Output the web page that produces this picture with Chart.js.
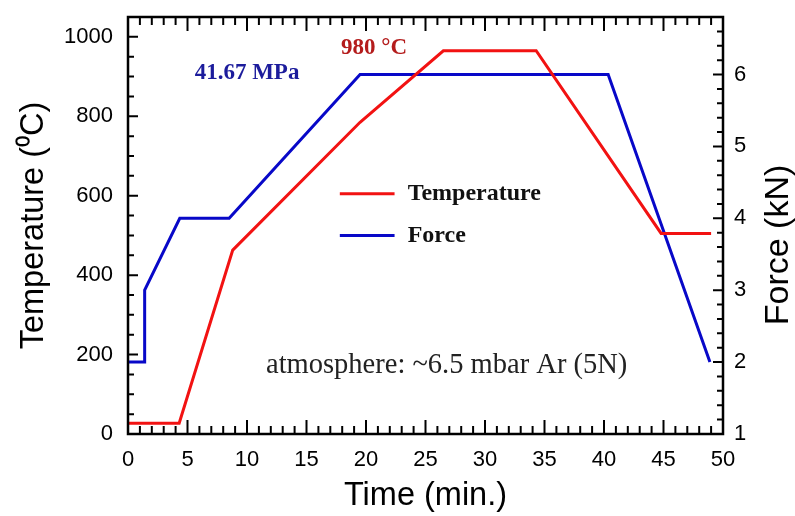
<!DOCTYPE html>
<html>
<head>
<meta charset="utf-8">
<script src="https://cdn.jsdelivr.net/npm/chart.js@4.4.1/dist/chart.umd.min.js"></script>
<style>
  html, body { margin: 0; padding: 0; background: #fff; }
  #wrap { width: 795px; height: 516px; }
</style>
</head>
<body>
<div id="wrap"><canvas id="profileChart"></canvas></div>
<script>
const timeTemp = [0, 4.3, 8.8, 19.5, 26.5, 34.3, 44.8, 49];
const temperature = [27, 27, 463, 785, 965, 965, 505, 505];
const timeForce = [0, 1.4, 1.4, 4.35, 8.5, 19.5, 40.35, 48.9];
const force = [2.0, 2.0, 3.0, 4.0, 4.0, 6.0, 6.0, 2.0];

const timeTicks = [0, 5, 10, 15, 20, 25, 30, 35, 40, 45, 50];
const tempTicks = [0, 200, 400, 600, 800, 1000];
const forceTicks = [1, 2, 3, 4, 5, 6];

const SANS = "'Liberation Sans', Arial, sans-serif";
const SERIF = "'Liberation Serif', 'Times New Roman', serif";
const RED = '#f21212';
const BLUE = '#0808c8';

Chart.defaults.font.family = SANS;
Chart.defaults.color = '#000';

// inward tick marks + box frame, like the Origin plot
const frameTicks = {
    id: 'frameTicks',
    afterDraw(chart) {
        const { ctx, chartArea: a, scales } = chart;
        const x = scales.x, yL = scales.y, yR = scales.y1;
        ctx.save();
        ctx.strokeStyle = '#000';
        ctx.lineWidth = 2;
        ctx.beginPath();
        for (let v = 0; v <= 50; v++) {
            const px = x.getPixelForValue(v);
            const len = v % 5 === 0 ? 14 : 8;
            ctx.moveTo(px, a.bottom); ctx.lineTo(px, a.bottom - len);
            ctx.moveTo(px, a.top); ctx.lineTo(px, a.top + len);
        }
        for (let v = 0; v <= 1050; v += 50) {
            const py = yL.getPixelForValue(v);
            const len = v % 200 === 0 ? 10 : 6;
            ctx.moveTo(a.left, py); ctx.lineTo(a.left + len, py);
        }
        for (let i = 0; i <= 29; i++) {
            const py = yR.getPixelForValue(1 + i * 0.2);
            const len = i % 5 === 0 ? 10 : 6;
            ctx.moveTo(a.right, py); ctx.lineTo(a.right - len, py);
        }
        ctx.stroke();
        ctx.lineWidth = 2.5;
        ctx.strokeRect(a.left, a.top, a.width, a.height);
        ctx.restore();
    }
};

// labels inside the plot, the legend and the right axis title
const notes = {
    id: 'notes',
    afterDraw(chart) {
        const { ctx, chartArea: a, scales } = chart;
        const x = scales.x, y = scales.y;
        ctx.save();
        ctx.textAlign = 'left';
        ctx.textBaseline = 'alphabetic';

        ctx.font = 'bold 23px ' + SERIF;
        ctx.fillStyle = '#1c1c9c';
        ctx.fillText('41.67 MPa', x.getPixelForValue(5.6), y.getPixelForValue(894));
        ctx.fillStyle = '#b41c1c';
        ctx.fillText('980 \u00B0C', x.getPixelForValue(17.9), y.getPixelForValue(958));

        ctx.font = '28.5px ' + SERIF;
        ctx.fillStyle = '#222';
        ctx.fillText('atmosphere: ~6.5 mbar Ar (5N)', x.getPixelForValue(11.6), y.getPixelForValue(153));

        // legend
        const rows = [605, 500];
        chart.data.datasets.forEach((ds, i) => {
            const py = y.getPixelForValue(rows[i]);
            ctx.strokeStyle = ds.borderColor;
            ctx.lineWidth = 3;
            ctx.beginPath();
            ctx.moveTo(x.getPixelForValue(17.8), py);
            ctx.lineTo(x.getPixelForValue(22.4), py);
            ctx.stroke();
            ctx.font = 'bold 24px ' + SERIF;
            ctx.fillStyle = '#111';
            ctx.textBaseline = 'middle';
            ctx.fillText(ds.label, x.getPixelForValue(23.5), py);
        });

        // right axis title reads bottom-to-top
        ctx.translate(779, 245);
        ctx.rotate(-Math.PI / 2);
        ctx.font = '34px ' + SANS;
        ctx.fillStyle = '#000';
        ctx.textAlign = 'center';
        ctx.textBaseline = 'middle';
        ctx.fillText('Force (kN)', 0, 0);
        ctx.restore();
    }
};

const tickFont = { family: SANS, size: 22 };
const titleFont = { family: SANS, size: 32.5 };
const plain = v => String(v);
const noPadV = s => { s.paddingTop = 0; s.paddingBottom = 0; };

new Chart(document.getElementById('profileChart').getContext('2d'), {
    type: 'line',
    data: {
        datasets: [{
            label: 'Temperature',
            data: timeTemp.map((t, i) => ({ x: t, y: temperature[i] })),
            yAxisID: 'y',
            borderColor: RED,
            borderWidth: 3,
            borderJoinStyle: 'miter',
            pointRadius: 0,
            tension: 0,
            fill: false
        }, {
            label: 'Force',
            data: timeForce.map((t, i) => ({ x: t, y: force[i] })),
            yAxisID: 'y1',
            borderColor: BLUE,
            borderWidth: 3,
            borderJoinStyle: 'miter',
            pointRadius: 0,
            tension: 0,
            fill: false
        }]
    },
    options: {
        responsive: true,
        maintainAspectRatio: false,
        animation: false,
        layout: { padding: { top: 17, left: 0, right: 0, bottom: 0 } },
        plugins: {
            legend: { display: false },
            tooltip: { enabled: false }
        },
        scales: {
            x: {
                type: 'linear',
                min: 0,
                max: 50,
                afterBuildTicks: s => { s.ticks = timeTicks.map(v => ({ value: v })); },
                afterFit: s => { s.height = 82; s.paddingLeft = 0; s.paddingRight = 0; },
                grid: { display: false, drawTicks: false },
                border: { display: false },
                ticks: { color: '#000', font: tickFont, padding: 13, maxRotation: 0, autoSkip: false, callback: plain },
                title: { display: true, text: 'Time (min.)', color: '#000', font: titleFont, padding: { top: 0, bottom: 0 } }
            },
            y: {
                position: 'left',
                min: 0,
                max: 1050,
                afterBuildTicks: s => { s.ticks = tempTicks.map(v => ({ value: v })); },
                afterFit: s => { s.width = 128; noPadV(s); },
                grid: { display: false, drawTicks: false },
                border: { display: false },
                ticks: { color: '#000', font: tickFont, padding: 15, callback: plain },
                title: { display: true, text: 'Temperature (\u2070C)', color: '#000', font: titleFont, padding: { top: 15, bottom: 0 } }
            },
            y1: {
                position: 'right',
                min: 1,
                max: 6.8,
                afterBuildTicks: s => { s.ticks = forceTicks.map(v => ({ value: v })); },
                afterFit: s => { s.width = 72; noPadV(s); },
                grid: { display: false, drawTicks: false },
                border: { display: false },
                ticks: { color: '#000', font: tickFont, padding: 11, callback: plain }
            }
        }
    },
    plugins: [frameTicks, notes]
});
</script>
</body>
</html>
